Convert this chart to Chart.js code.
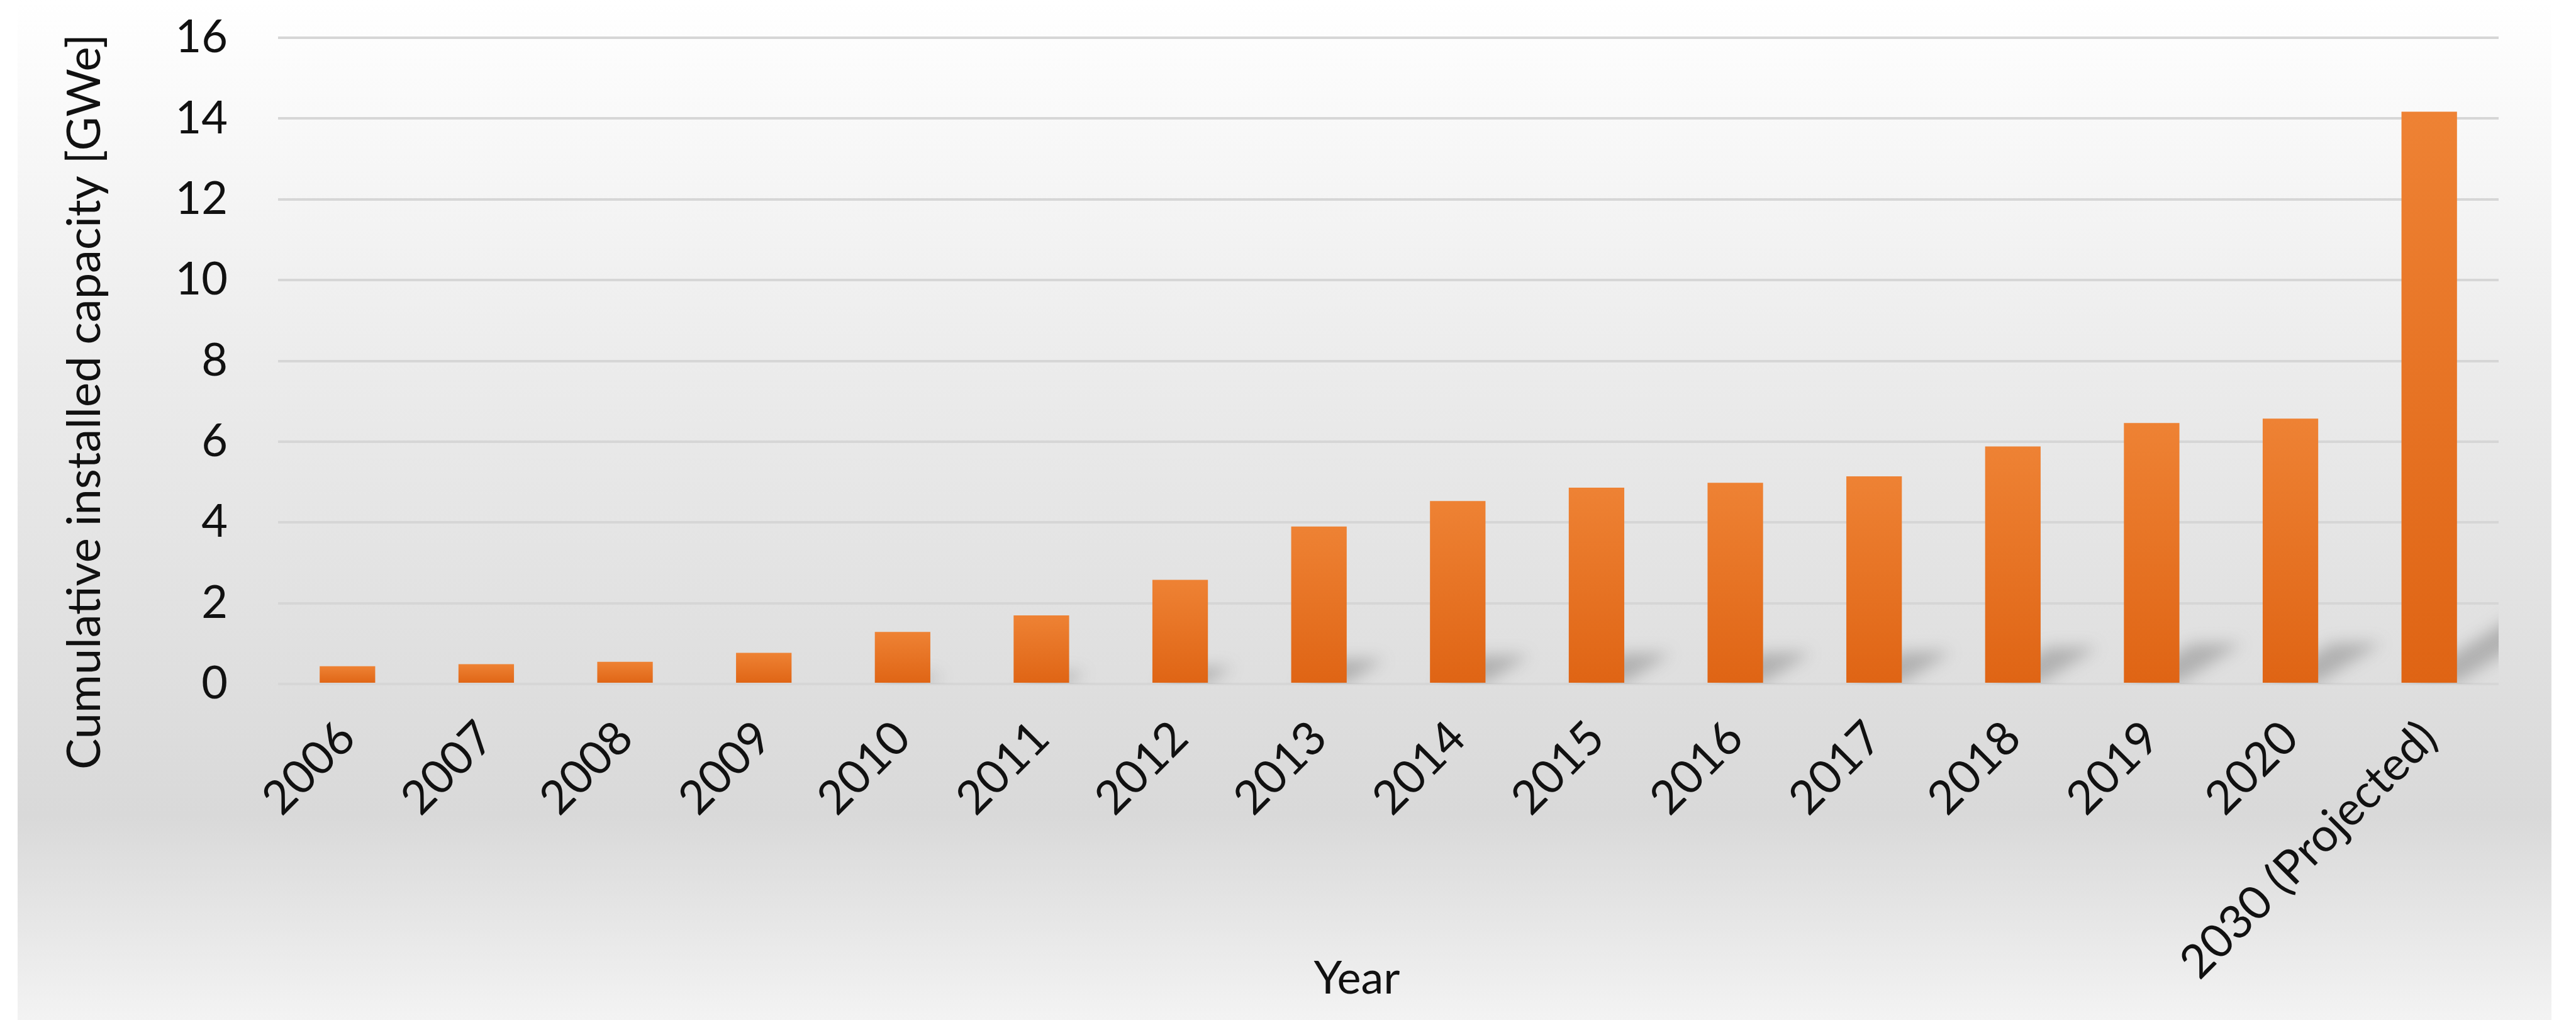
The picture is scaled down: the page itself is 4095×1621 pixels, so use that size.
<!DOCTYPE html>
<html lang="en">
<head>
  <meta charset="UTF-8">
  <title>Cumulative installed capacity</title>
  <script src="https://cdn.jsdelivr.net/npm/chart.js"></script>
  <style>
    html, body {
      margin: 0;
      padding: 0;
      background: #ffffff;
    }
    .chart-box {
      width: 4095px;
      height: 1621px;
      position: relative;
    }
  </style>
</head>
<body>
  <div class="chart-box">
    <canvas id="myChart"></canvas>
  </div>

  <script>
    const years = ['2006', '2007', '2008', '2009', '2010', '2011', '2012', '2013',
      '2014', '2015', '2016', '2017', '2018', '2019', '2020', '2030 (Projected)'];
    const capacity = [0.44, 0.49, 0.55, 0.77, 1.29, 1.70, 2.58, 3.90,
      4.53, 4.86, 4.98, 5.14, 5.88, 6.46, 6.57, 14.17];
    const yTicks = [0, 2, 4, 6, 8, 10, 12, 14, 16];
    const xTitle = 'Year';
    const yTitle = 'Cumulative installed capacity [GWe]';

    const FONT = 'Lato, "Open Sans", sans-serif';

    // grey gradient panel behind the whole chart
    const panelPlugin = {
      id: 'panel',
      beforeDraw(chart) {
        const ctx = chart.ctx;
        const h = chart.height;
        const g = ctx.createLinearGradient(0, 0, 0, h);
        g.addColorStop(0, '#ffffff');
        g.addColorStop(0.37, '#ebebeb');
        g.addColorStop(0.8, '#d9d9d9');
        g.addColorStop(1, '#f3f3f3');
        ctx.save();
        ctx.fillStyle = '#ffffff';
        ctx.fillRect(0, 0, chart.width, h);
        ctx.fillStyle = g;
        ctx.fillRect(28, 0, 4028, h);
        ctx.restore();
      }
    };

    // soft perspective shadow at the foot of each bar
    const shadowPlugin = {
      id: 'barShadow',
      beforeDatasetsDraw(chart) {
        const ctx = chart.ctx;
        const area = chart.chartArea;
        const meta = chart.getDatasetMeta(0);
        ctx.save();
        ctx.beginPath();
        ctx.rect(area.left, area.top, area.right - area.left, area.bottom - area.top);
        ctx.clip();
        ctx.filter = 'blur(12px)';
        ctx.fillStyle = 'rgba(90, 90, 90, 0.35)';
        meta.data.forEach(bar => {
          const p = bar.getProps(['x', 'y', 'base', 'width'], true);
          const hgt = p.base - p.y;
          if (hgt < 60) return;
          const dy = Math.min(hgt * 0.15, 120);
          const dx = dy * 1.6;
          const l = p.x - p.width / 2;
          const r = p.x + p.width / 2;
          ctx.beginPath();
          ctx.moveTo(l + 10, p.base);
          ctx.lineTo(r, p.base);
          ctx.lineTo(r + dx, p.base - dy);
          ctx.lineTo(l + dx + 10, p.base - dy);
          ctx.closePath();
          ctx.fill();
        });
        ctx.restore();
      }
    };

    // axis titles, placed like the Excel original (slightly off centre)
    const axisTitlePlugin = {
      id: 'axisTitles',
      afterDraw(chart) {
        const ctx = chart.ctx;
        const a = chart.chartArea;
        ctx.save();
        ctx.fillStyle = '#111111';
        ctx.textAlign = 'center';
        ctx.textBaseline = 'middle';
        ctx.font = '72px ' + FONT;
        ctx.fillText(xTitle, (a.left + a.right) / 2 - 50, 1556);
        ctx.translate(135, (a.top + a.bottom) / 2 + 65);
        ctx.rotate(-Math.PI / 2);
        ctx.font = '74px ' + FONT;
        ctx.fillText(yTitle, 0, 0);
        ctx.restore();
      }
    };

    function barFill(context) {
      const chart = context.chart;
      const yScale = chart.scales.y;
      const v = context.raw;
      if (!yScale || !chart.chartArea || v == null) return '#e8762a';
      const top = yScale.getPixelForValue(v);
      const bottom = yScale.getPixelForValue(0);
      const g = chart.ctx.createLinearGradient(0, top, 0, bottom);
      g.addColorStop(0, '#ee8234');
      g.addColorStop(1, '#df6414');
      return g;
    }

    const ctx = document.getElementById('myChart').getContext('2d');

    new Chart(ctx, {
      type: 'bar',
      data: {
        labels: years,
        datasets: [{
          label: yTitle,
          data: capacity,
          backgroundColor: barFill,
          borderWidth: 0,
          categoryPercentage: 1.0,
          barPercentage: 0.4
        }]
      },
      options: {
        responsive: true,
        maintainAspectRatio: false,
        animation: false,
        devicePixelRatio: 1,
        layout: {
          padding: { left: 28, right: 123, top: 60, bottom: 0 }
        },
        plugins: {
          legend: { display: false },
          tooltip: { enabled: false }
        },
        scales: {
          x: {
            grid: { display: false, drawTicks: false },
            border: { display: false },
            ticks: {
              color: '#111111',
              font: { family: FONT, size: 74 },
              minRotation: 45,
              maxRotation: 45,
              autoSkip: false,
              padding: 42
            },
            afterFit(scale) {
              scale.height = 534;
              scale.paddingTop = 0;
            }
          },
          y: {
            min: 0,
            max: 16,
            afterBuildTicks(scale) {
              scale.ticks = yTicks.map(v => ({ value: v }));
            },
            grid: {
              color: '#d6d6d6',
              lineWidth: 4,
              drawTicks: false
            },
            border: { display: false },
            ticks: {
              color: '#111111',
              font: { family: FONT, size: 72 },
              padding: 80
            },
            afterFit(scale) {
              scale.width = 414;
              scale.paddingTop = 0;
              scale.paddingBottom = 0;
            }
          }
        }
      },
      plugins: [panelPlugin, shadowPlugin, axisTitlePlugin]
    });
  </script>
</body>
</html>
